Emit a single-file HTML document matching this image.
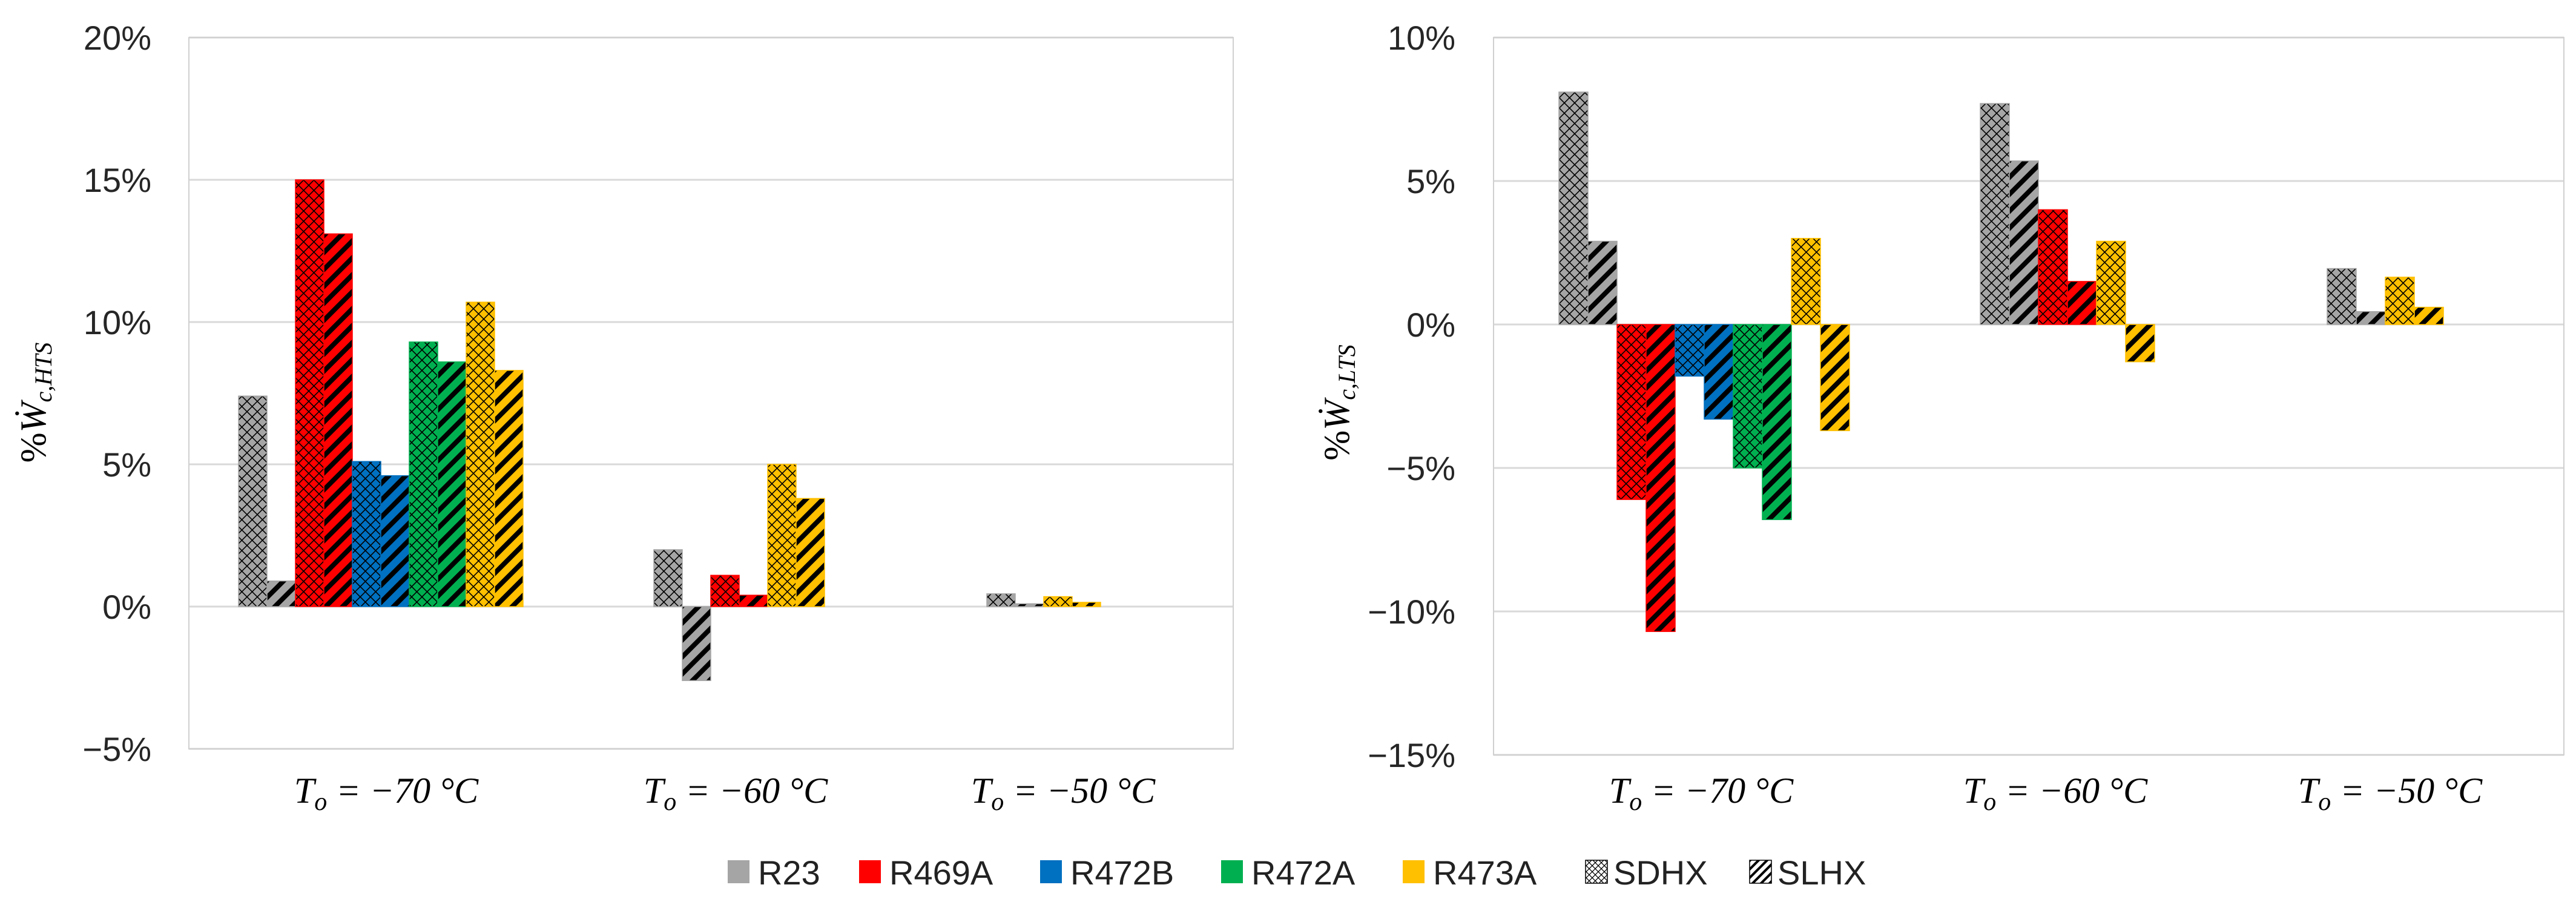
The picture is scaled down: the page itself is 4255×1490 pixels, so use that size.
<!DOCTYPE html>
<html><head><meta charset="utf-8"><style>
html,body{margin:0;padding:0;background:#fff;}
svg{display:block;}
.tk{font-family:"Liberation Sans Narrow","Liberation Sans",sans-serif;font-size:56px;fill:#262626;}
.xl{font-family:"Liberation Serif",serif;font-style:italic;font-size:60px;fill:#000;}
.lg{font-family:"Liberation Sans",sans-serif;font-size:56px;fill:#222;}
</style></head><body>
<svg id="chart" width="4255" height="1490" viewBox="0 0 4255 1490" xmlns="http://www.w3.org/2000/svg">
<defs id="defs"></defs>
<g id="root"></g>
</svg>
<script>
const series = ["R23","R469A","R472B","R472A","R473A"];
const colors = ["#a5a5a5","#ff0000","#0070c0","#00b050","#ffc000"];
const categories = ["−70","−60","−50"];
// HTS chart values [category][series] for SDHX and SLHX
const htsSDHX = [[7.4,15.0,5.1,9.3,10.7],[2.0,1.1,null,null,5.0],[0.45,null,null,null,0.35]];
const htsSLHX = [[0.9,13.1,4.6,8.6,8.3],[-2.6,0.4,null,null,3.8],[0.1,null,null,null,0.15]];
const ltsSDHX = [[8.1,-6.1,-1.8,-5.0,3.0],[7.7,4.0,null,null,2.9],[1.95,null,null,null,1.65]];
const ltsSLHX = [[2.9,-10.7,-3.3,-6.8,-3.7],[5.7,1.5,null,null,-1.3],[0.45,null,null,null,0.6]];
const htsTicks = [20,15,10,5,0,-5];
const ltsTicks = [10,5,0,-5,-10,-15];

const NS="http://www.w3.org/2000/svg";
const defs=document.getElementById('defs');
const root=document.getElementById('root');
function el(t,a,p){const e=document.createElementNS(NS,t);for(const k in a)e.setAttribute(k,a[k]);(p||root).appendChild(e);return e;}

colors.forEach((c,i)=>{
  const p1=el('pattern',{id:'x'+i,patternUnits:'userSpaceOnUse',width:17,height:17},defs);
  el('rect',{width:17,height:17,fill:c},p1);
  el('path',{d:'M0,0L17,17M17,0L0,17',stroke:'#000','stroke-width':1.6},p1);
  const p2=el('pattern',{id:'s'+i,patternUnits:'userSpaceOnUse',width:28,height:28},defs);
  el('rect',{width:28,height:28,fill:c},p2);
  el('path',{d:'M-7,7L7,-7M0,28L28,0M21,35L35,21',stroke:'#000','stroke-width':8},p2);
});
const pw=el('pattern',{id:'xw',patternUnits:'userSpaceOnUse',width:10,height:10},defs);
el('rect',{width:10,height:10,fill:'#fff'},pw);
el('path',{d:'M0,0L10,10M10,0L0,10',stroke:'#000','stroke-width':1.3},pw);
const pw2=el('pattern',{id:'sw',patternUnits:'userSpaceOnUse',width:14,height:14},defs);
el('rect',{width:14,height:14,fill:'#fff'},pw2);
el('path',{d:'M-4,4L4,-4M0,14L14,0M10,18L18,10',stroke:'#000','stroke-width':4},pw2);

function chart(cfg){
  const g=el('g',{});
  
  
  const y=v=>cfg.y0+(v-cfg.vmax)/(cfg.vmin-cfg.vmax)*(cfg.y1-cfg.y0);
  cfg.ticks.forEach(t=>{
    const gl=el('line',{x1:cfg.x0,x2:cfg.x1,y1:y(t),y2:y(t),stroke:'#d9d9d9','stroke-width':3},g);
    
    
    const tl=el('text',{x:cfg.tx,y:y(t)+20,'text-anchor':'end',class:'tk'},g);
    tl.textContent=(t<0?'−'+(-t):t)+'%';
    
    
  });
  const fr=el('rect',{x:cfg.x0,y:cfg.y0,width:cfg.x1-cfg.x0,height:cfg.y1-cfg.y0,fill:'none',stroke:'#d0d0d0','stroke-width':2},g);
  
  
  const bw=cfg.bw;
  categories.forEach((c,ci)=>{
    let x=cfg.starts[ci];
    series.forEach((s,si)=>{
      [[cfg.sd,'x'],[cfg.sl,'s']].forEach(([arr,pt])=>{
        const v=arr[ci][si];
        if(v===null)return;
        const yt=Math.min(y(v),y(0)),h=Math.abs(y(v)-y(0));
        const b=el('rect',{x:x,y:yt,width:bw,height:h,fill:'url(#'+pt+si+')',stroke:colors[si],'stroke-width':1.5},g);
        
        
        x+=bw;
      });
    });
    const xl=el('text',{x:cfg.lx[ci],y:1326,'text-anchor':'middle',class:'xl'},g);
    xl.innerHTML='T<tspan font-size="42" dy="12">o</tspan><tspan dy="-12"> = '+c+' °C</tspan>';
    
    
  });
  const yt=el('text',{x:cfg.ax,y:665,'text-anchor':'middle',class:'xl',transform:'rotate(-90 '+cfg.ax+' 665)'},g);
  yt.innerHTML='<tspan font-style="normal">%</tspan>Ẇ<tspan font-size="40" dy="10">c,'+cfg.sub+'</tspan>';
  
  
}
chart({name:'hts-chart',x0:312,x1:2037,y0:62,y1:1237,vmax:20,vmin:-5,ticks:htsTicks,tx:250,bw:47,
  starts:[394,1080,1630],lx:[638,1215,1756],sd:htsSDHX,sl:htsSLHX,ax:75,sub:'HTS'});
chart({name:'lts-chart',x0:2467,x1:4235,y0:62,y1:1247,vmax:10,vmin:-15,ticks:ltsTicks,tx:2404,bw:48,
  starts:[2575,3271,3844],lx:[2810,3395,3948],sd:ltsSDHX,sl:ltsSLHX,ax:2228,sub:'LTS'});

const lg=el('g',{});


const lgx=[1202,1419,1718,2017,2317];
series.forEach((s,i)=>{
  const r=el('rect',{x:lgx[i],y:1421,width:36,height:38,fill:colors[i]},lg);
  
  
  const t=el('text',{x:lgx[i]+50,y:1461,class:'lg'},lg);
  t.textContent=s;
  
  
});
[['SDHX','xw',2619],['SLHX','sw',2890]].forEach(([s,p,x])=>{
  const r=el('rect',{x:x,y:1421,width:36,height:38,fill:'url(#'+p+')',stroke:'#000','stroke-width':1.5},lg);
  
  
  const t=el('text',{x:x+46,y:1461,class:'lg'},lg);
  t.textContent=s;
  
  
});
</script>
</body></html>
